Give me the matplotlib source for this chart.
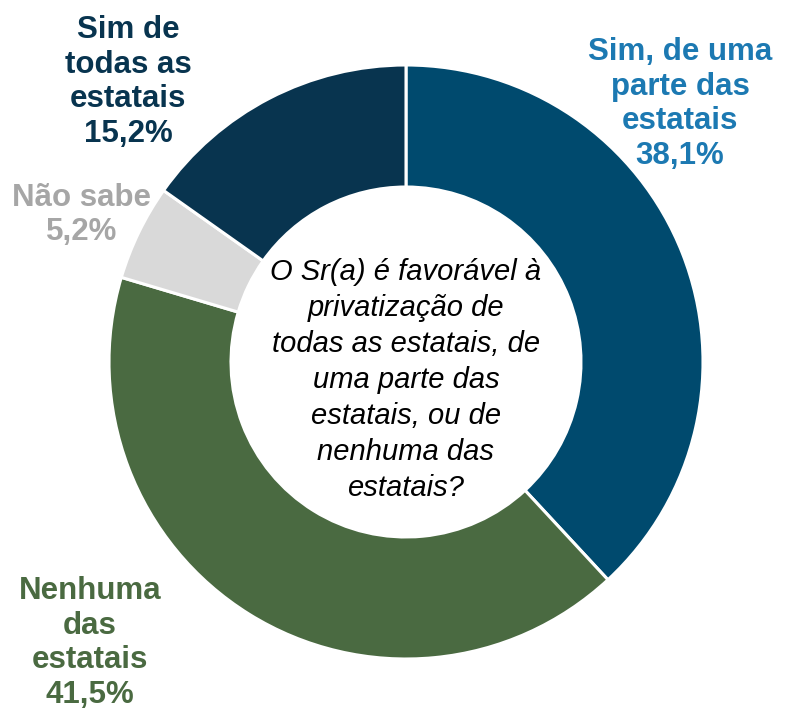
import matplotlib
matplotlib.use("Agg")
from matplotlib import pyplot as plt

# dados da pergunta
categorias = ["Sim, de uma\nparte das\nestatais", "Nenhuma\ndas\nestatais", "Não sabe", "Sim de\ntodas as\nestatais"]
valores = [38.1, 41.5, 5.2, 15.2]
cores_fatia = ["#004A6E", "#4A6A41", "#D9D9D9", "#08344F"]
cores_rotulo = ["#1C79B2", "#4A6A41", "#A6A6A6", "#08344F"]
pergunta = ("O Sr(a) é favorável à\nprivatização de\ntodas as estatais, de\n"
            "uma parte das\nestatais, ou de\nnenhuma das\nestatais?")

W, H = 788, 714
fig = plt.figure(figsize=(W / 100, H / 100), dpi=100)
ax = fig.add_axes([0, 0, 1, 1])

# centro e raio do anel em pixels (y para cima)
cx, cy, r = 406, H - 362, 297
ax.pie(valores, colors=cores_fatia, startangle=90, counterclock=False,
       center=(cx, cy), radius=r, frame=True,
       wedgeprops=dict(width=r - 175, edgecolor="white", linewidth=2.2))
ax.set_xlim(0, W)
ax.set_ylim(0, H)
ax.set_aspect("equal")
ax.axis("off")

fonte = "Liberation Sans"
posicoes = [(680, 104), (90, 643), (82, 215), (128, 82)]
for cat, v, cor, (x, y) in zip(categorias, valores, cores_rotulo, posicoes):
    txt = cat + "\n" + f"{v:.1f}".replace(".", ",") + "%"
    ax.text(x, H - y, txt, ha="center", va="center", color=cor,
            fontsize=22.5, fontweight="bold", family=fonte, linespacing=1.2)

ax.text(cx, H - 380, pergunta, ha="center", va="center", color="black",
        fontsize=21, style="italic", family=fonte, linespacing=1.36)

fig.savefig("out.png", dpi=100)
